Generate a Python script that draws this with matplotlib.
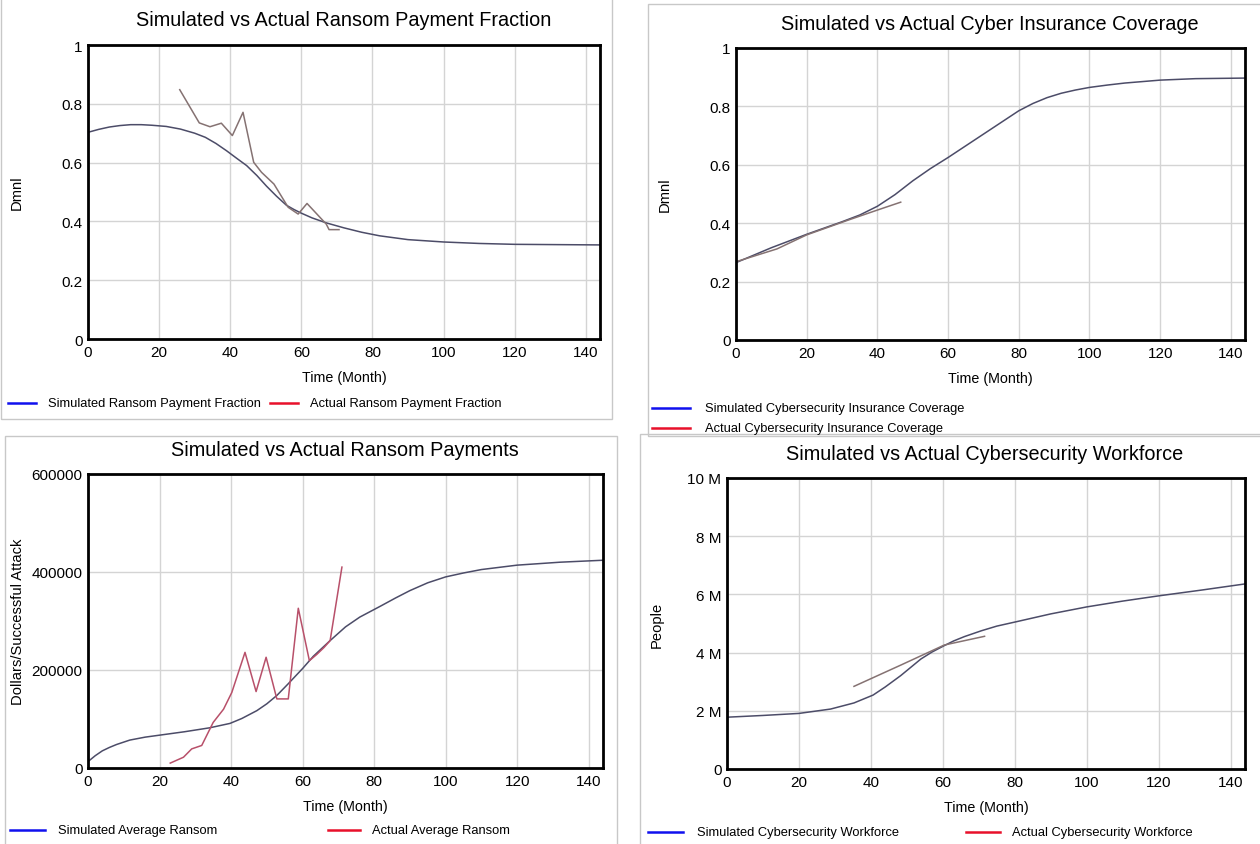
import matplotlib
matplotlib.use("Agg")
import matplotlib.pyplot as plt
from matplotlib.lines import Line2D
from matplotlib.patches import Rectangle
from matplotlib.ticker import FuncFormatter

plt.rcParams['font.family'] = ['Liberation Sans', 'DejaVu Sans']

W, H = 1260, 845

# ---------------- data ----------------
# Panel 1: ransom payment fraction
p1_sim_t = [0, 3, 6, 9, 12, 15, 18, 22, 26, 30, 33, 36, 39, 42, 44.6, 47.5, 50.2, 53, 55.8, 58, 60, 63, 67, 72, 77, 82, 90, 100, 110, 120, 132, 144]
p1_sim_v = [0.703, 0.713, 0.721, 0.726, 0.729, 0.729, 0.727, 0.723, 0.714, 0.700, 0.686, 0.665, 0.640, 0.613, 0.590, 0.556, 0.520, 0.486, 0.455, 0.440, 0.428, 0.412, 0.395, 0.378, 0.363, 0.351, 0.338, 0.330, 0.325, 0.322, 0.321, 0.320]
p1_act_t = [25.8, 31.3, 34.3, 37.5, 40.6, 43.6, 46.6, 48.8, 52.3, 56.3, 59.1, 61.6, 67.0, 67.8, 70.6]
p1_act_v = [0.848, 0.735, 0.722, 0.734, 0.692, 0.771, 0.601, 0.567, 0.527, 0.448, 0.425, 0.461, 0.391, 0.372, 0.372]

# Panel 2: cyber insurance coverage
p2_sim_t = [0, 10, 20, 30, 35, 40, 45, 50, 55, 60, 65, 70, 75, 80, 84, 88, 92, 96, 100, 105, 110, 120, 130, 144]
p2_sim_v = [0.265, 0.316, 0.362, 0.405, 0.428, 0.458, 0.498, 0.545, 0.587, 0.625, 0.665, 0.705, 0.745, 0.785, 0.810, 0.830, 0.845, 0.856, 0.865, 0.873, 0.880, 0.890, 0.895, 0.897]
p2_act_t = [0, 11.6, 20, 31.6, 40, 46.6]
p2_act_v = [0.268, 0.312, 0.360, 0.410, 0.445, 0.472]

# Panel 3: average ransom payments
p3_sim_t = [0, 2, 4, 6, 8, 11.7, 16, 20, 27, 34, 39.7, 43, 47.2, 50, 52.8, 56, 60, 63, 67.7, 72, 76, 81.7, 86, 90, 95, 100, 105, 110, 120, 132, 144]
p3_sim_v = [13000, 25000, 35000, 42000, 48000, 57000, 63000, 67000, 74000, 82000, 91000, 101000, 117000, 131000, 148000, 172000, 203000, 228000, 260000, 288000, 308000, 330000, 347000, 362000, 378000, 390000, 398000, 405000, 414000, 420000, 424000]
p3_act_t = [23, 26.7, 29, 31.8, 35, 37.9, 40.2, 43.9, 47, 49.8, 52.8, 56, 58.8, 61.9, 64, 66, 67.7, 71]
p3_act_v = [10000, 22000, 39000, 46000, 93000, 120000, 154000, 236000, 156000, 226000, 141000, 141000, 326000, 219000, 232000, 246000, 260000, 410000]

# Panel 4: cybersecurity workforce
p4_sim_t = [0, 10, 20, 28.8, 35.3, 40.6, 44, 48.3, 53.9, 57, 60.4, 63, 66, 70.7, 75, 80.4, 90, 100, 110, 120, 132, 144]
p4_sim_v = [1.78e6, 1.84e6, 1.91e6, 2.06e6, 2.27e6, 2.54e6, 2.82e6, 3.21e6, 3.78e6, 4.02e6, 4.24e6, 4.40e6, 4.55e6, 4.75e6, 4.91e6, 5.06e6, 5.33e6, 5.57e6, 5.77e6, 5.95e6, 6.15e6, 6.36e6]
p4_act_t = [35.3, 48.3, 60.4, 71.6]
p4_act_v = [2.84e6, 3.57e6, 4.26e6, 4.56e6]

xticks = [0, 20, 40, 60, 80, 100, 120, 140]

SIM_COLOR = '#4c4c68'
ACT_COLOR = '#857272'
ACT3_COLOR = '#b8506a'
LEG_BLUE = '#1010ee'
LEG_RED = '#e8102a'

fig = plt.figure(figsize=(W / 100, H / 100), dpi=100)
fig.patch.set_facecolor('white')


def fx(px):
    return px / W


def fy(py):
    return 1 - py / H


def add_ax(l, t, r, b):
    return fig.add_axes([fx(l), fy(b), fx(r) - fx(l), (b - t) / H])


def frame(l, t, r, b):
    fig.add_artist(Rectangle((fx(l), fy(b)), fx(r) - fx(l), (b - t) / H,
                             transform=fig.transFigure, fill=False,
                             edgecolor='#c8c8c8', linewidth=1.0))


def style(ax, ylim, yticks, ylabel, ylab_x, yfmt=None):
    ax.set_xlim(0, 144)
    ax.set_ylim(*ylim)
    ax.set_xticks(xticks)
    ax.set_yticks(yticks)
    if yfmt is not None:
        ax.yaxis.set_major_formatter(FuncFormatter(yfmt))
    ax.grid(True, color='#d4d4d4', linewidth=1.0)
    ax.set_axisbelow(True)
    for s in ax.spines.values():
        s.set_linewidth(2.0)
        s.set_color('black')
    ax.tick_params(length=0, pad=4, labelsize=11)
    ax.set_xlabel('Time (Month)', fontsize=10.3, labelpad=8)
    ax.set_ylabel(ylabel, fontsize=10.6)
    ax.yaxis.set_label_coords(ylab_x, 0.5)


def legend_item(x0, x1, y, color, text, tx):
    fig.add_artist(Line2D([fx(x0), fx(x1)], [fy(y), fy(y)], color=color,
                          linewidth=1.8, transform=fig.transFigure))
    fig.text(fx(tx), fy(y), text, fontsize=9.3, va='center', ha='left')


def fmt_frac(v, pos):
    if abs(v) < 1e-9:
        return '0'
    if abs(v - 1) < 1e-9:
        return '1'
    return ('%.1f' % v)


def fmt_int(v, pos):
    return '%d' % int(round(v))


def fmt_M(v, pos):
    if abs(v) < 1:
        return '0'
    return '%d M' % int(round(v / 1e6))


# ---------------- panel frames ----------------
frame(0.5, -2, 612, 420)
frame(648, 5, 1262, 437)
frame(5, 437, 617, 848)
frame(640, 435, 1262, 848)

# ---------------- panel 1 ----------------
ax1 = add_ax(88, 46, 600, 340)
ax1.plot(p1_sim_t, p1_sim_v, color=SIM_COLOR, linewidth=1.1)
ax1.plot(p1_act_t, p1_act_v, color=ACT_COLOR, linewidth=1.1)
style(ax1, (0, 1), [0, 0.2, 0.4, 0.6, 0.8, 1], 'Dmnl', -0.125, fmt_frac)
fig.text(fx(344), fy(21), 'Simulated vs Actual Ransom Payment Fraction',
         fontsize=14.3, ha='center', va='center')
legend_item(8, 36, 404, LEG_BLUE, 'Simulated Ransom Payment Fraction', 48)
legend_item(270, 298, 404, LEG_RED, 'Actual Ransom Payment Fraction', 310)

# ---------------- panel 2 ----------------
ax2 = add_ax(736, 49, 1245, 341)
ax2.plot(p2_sim_t, p2_sim_v, color=SIM_COLOR, linewidth=1.1)
ax2.plot(p2_act_t, p2_act_v, color=ACT_COLOR, linewidth=1.1)
style(ax2, (0, 1), [0, 0.2, 0.4, 0.6, 0.8, 1], 'Dmnl', -0.126, fmt_frac)
fig.text(fx(990), fy(24), 'Simulated vs Actual Cyber Insurance Coverage',
         fontsize=14.3, ha='center', va='center')
legend_item(652, 690, 409, LEG_BLUE, 'Simulated Cybersecurity Insurance Coverage', 705)
legend_item(652, 690, 429, LEG_RED, 'Actual Cybersecurity Insurance Coverage', 705)

# ---------------- panel 3 ----------------
ax3 = add_ax(88, 475, 603, 769)
ax3.plot(p3_sim_t, p3_sim_v, color=SIM_COLOR, linewidth=1.1)
ax3.plot(p3_act_t, p3_act_v, color=ACT3_COLOR, linewidth=1.1)
style(ax3, (0, 600000), [0, 200000, 400000, 600000], 'Dollars/Successful Attack', -0.122, fmt_int)
fig.text(fx(345), fy(451), 'Simulated vs Actual Ransom Payments',
         fontsize=14.3, ha='center', va='center')
legend_item(10, 45, 831, LEG_BLUE, 'Simulated Average Ransom', 58)
legend_item(328, 360, 831, LEG_RED, 'Actual Average Ransom', 372)

# ---------------- panel 4 ----------------
ax4 = add_ax(727, 479, 1245, 770)
ax4.plot(p4_sim_t, p4_sim_v, color=SIM_COLOR, linewidth=1.1)
ax4.plot(p4_act_t, p4_act_v, color=ACT_COLOR, linewidth=1.1)
style(ax4, (0, 10e6), [0, 2e6, 4e6, 6e6, 8e6, 10e6], 'People', -0.122, fmt_M)
fig.text(fx(985), fy(455), 'Simulated vs Actual Cybersecurity Workforce',
         fontsize=14.3, ha='center', va='center')
legend_item(648, 683, 833, LEG_BLUE, 'Simulated Cybersecurity Workforce', 697)
legend_item(966, 1000, 833, LEG_RED, 'Actual Cybersecurity Workforce', 1012)

fig.savefig('out.png', dpi=100, facecolor='white')
